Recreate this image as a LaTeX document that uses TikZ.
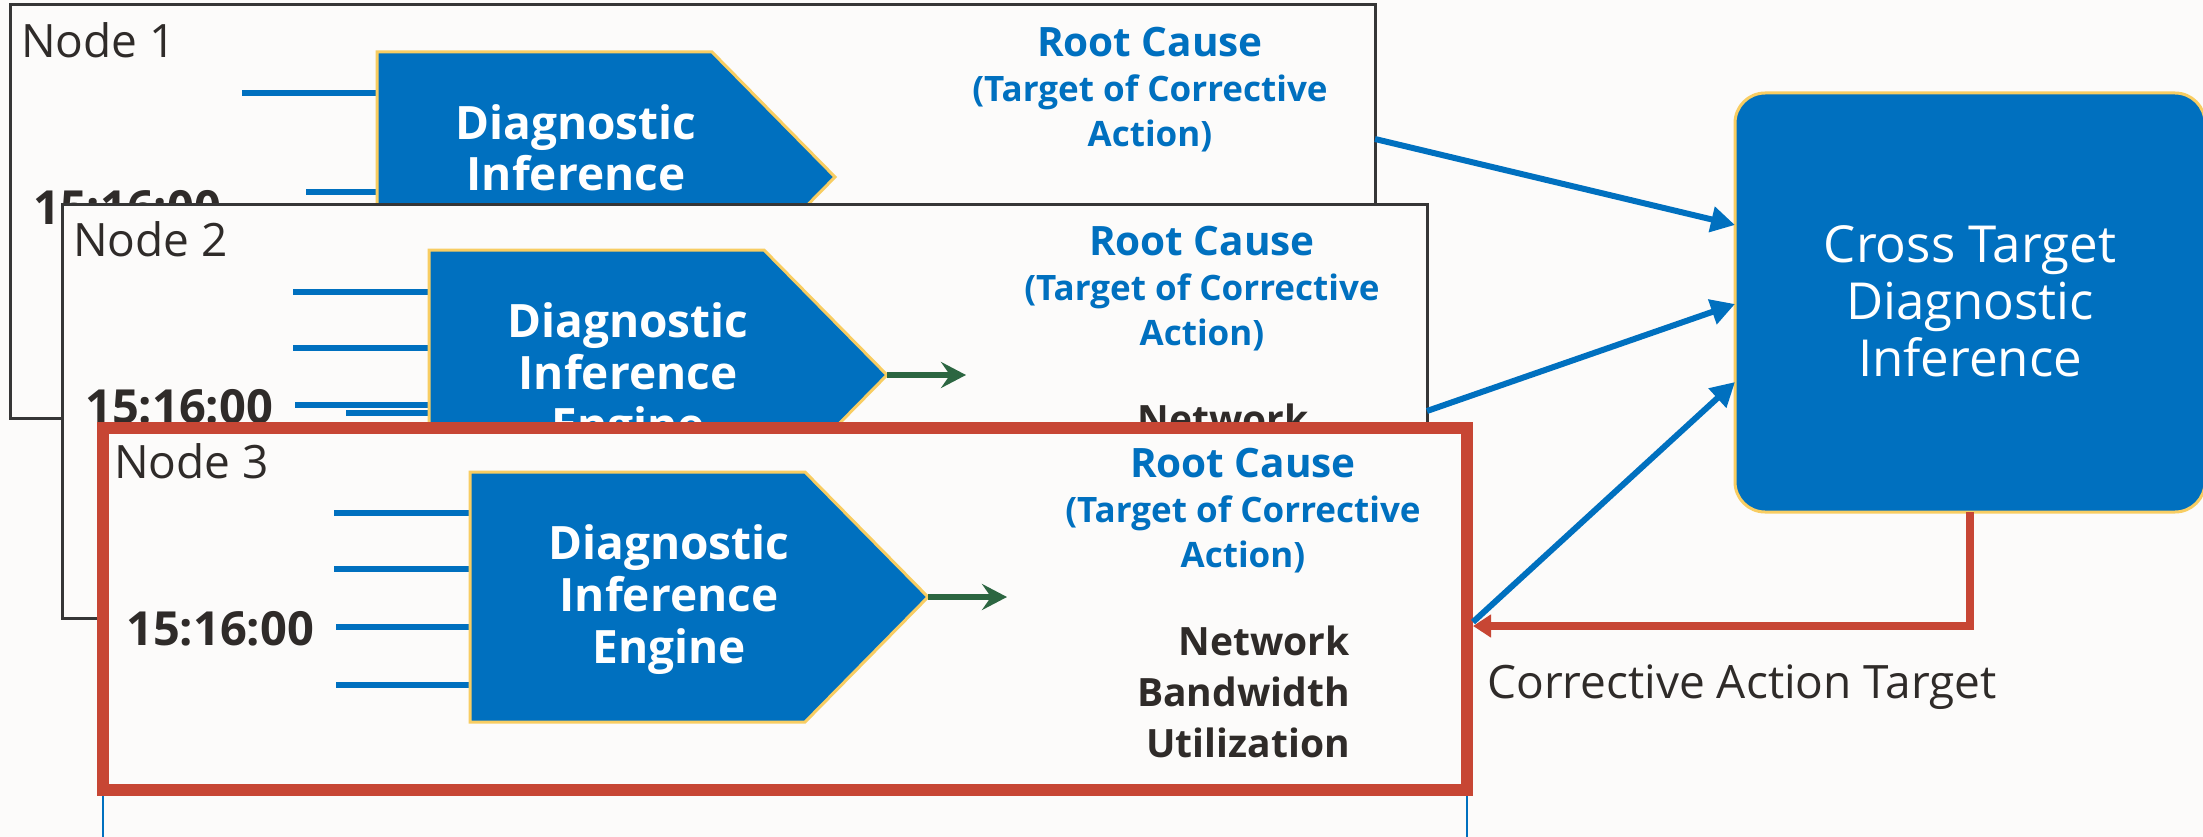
\documentclass[tikz,border=0pt]{standalone}
\usepackage{fontspec}
\setmainfont{Open Sans}
\usetikzlibrary{arrows.meta}
\definecolor{bgc}{HTML}{FCFBFA}
\definecolor{oblue}{HTML}{0070BF}
\definecolor{ored}{HTML}{C74634}
\definecolor{oyel}{HTML}{F8CD62}
\definecolor{ogreen}{HTML}{2C6641}
\definecolor{otext}{HTML}{2F2B29}
\definecolor{oframe}{HTML}{363636}
\tikzset{
  inline/.style={oblue, line width=6pt},
  chev/.style={fill=oblue, draw=oyel, line width=3pt, line join=miter},
  engtext/.style={white, font=\fontsize{46}{52}\selectfont\bfseries, align=center, anchor=base, inner sep=0pt},
  timetext/.style={otext, font=\fontsize{47}{52}\selectfont\bfseries, anchor=base west, inner sep=0pt},
  rctitle/.style={oblue, font=\fontsize{40.5}{45}\selectfont\bfseries, anchor=base, inner sep=0pt},
  rcsub/.style={oblue, font=\fontsize{35}{45}\selectfont\bfseries, align=center, anchor=base, inner sep=0pt},
  nettext/.style={otext, font=\fontsize{39}{51}\selectfont\bfseries, align=right, anchor=base east, inner sep=0pt},
  labeltext/.style={otext, font=\fontsize{46}{50}\selectfont, anchor=base west, inner sep=0pt},
  graybox/.style={draw=oframe, fill=bgc, line width=3pt, anchor=north west, inner sep=0pt, outer sep=0pt},
  redbox/.style={draw=ored, fill=bgc, line width=11.5pt, anchor=north west, inner sep=0pt, outer sep=0pt},
  ctbox/.style={draw=oyel, fill=oblue, line width=3pt, rounded corners=30pt, anchor=north west, inner sep=0pt, outer sep=0pt},
  cttext/.style={white, font=\fontsize{51}{57}\selectfont, align=center, anchor=base, inner sep=0pt},
  garrow/.style={ogreen, line width=5.5pt, -{Stealth[length=25pt, width=26pt, inset=9pt]}},
  barrow/.style={oblue, line width=6pt, -{Triangle[length=24pt, width=25pt]}},
  rarrow/.style={ored, line width=8pt, -{Triangle[length=18pt, width=22pt]}},
  thinblue/.style={oblue, line width=2pt}
}
% multi-line nodes: the base anchor is the baseline of the last line
\newcommand\diagcontent[2]{%
  \begin{scope}[shift={#2}]
    \path[chev] (377,52) -- (712,52) -- (835,177) -- (712,302) -- (377,302) -- cycle;
    \coordinate (tip#1) at (835,177);
    \coordinate (gend#1) at (914,177);
    \node[engtext] (eng#1) at (576,243) {Diagnostic\\Inference\\Engine};
    \node[timetext] (time#1) at (33,225) {15:16:00};
    \node[rctitle] (rc#1) at (1150,57) {Root Cause};
    \node[rcsub] (rcs#1) at (1150,147) {(Target of Corrective\\Action)};
    \node[nettext] (net#1) at (1257,337) {Network\\Bandwidth\\Utilization};
  \end{scope}}
\begin{document}
\begin{tikzpicture}[x=1pt, y=-1pt]
  \useasboundingbox (0,0) rectangle (2203,837);
  \fill[bgc] (0,0) rectangle (2203,837);

  % ---------- Node 1 ----------
  \node[graybox, minimum width=1365pt, minimum height=413pt] (n1) at (10,5) {};
  \node[labeltext] (lab1) at (21,58) {Node 1};
  \draw[inline] (242,93) -- (377,93);
  \draw[inline] (306,192) -- (377,192);
  \diagcontent{1}{(0,0)}

  % ---------- Node 2 ----------
  \node[graybox, minimum width=1365pt, minimum height=413pt] (n2) at (62,205) {};
  \node[labeltext] (lab2) at (73,256) {Node 2};
  \draw[inline] (293,292) -- (429,292);
  \draw[inline] (293,348) -- (429,348);
  \draw[inline] (295,405) -- (429,405);
  \draw[inline] (346,413) -- (429,413);
  \diagcontent{2}{(52,198)}
  \draw[garrow] (tip2) -- (gend2);

  % ---------- Node 3 ----------
  \draw[thinblue] (103,790) -- (103,837);
  \draw[thinblue] (1467,790) -- (1467,837);
  \node[redbox, minimum width=1364pt, minimum height=362pt] (n3) at (103,428) {};
  \node[labeltext] (lab3) at (114,478) {Node 3};
  \draw[inline] (334,513) -- (470,513);
  \draw[inline] (334,569) -- (470,569);
  \draw[inline] (336,627) -- (470,627);
  \draw[inline] (336,685) -- (470,685);
  \diagcontent{3}{(93,420)}
  \draw[garrow] (tip3) -- (gend3);

  % ---------- Cross target ----------
  \node[ctbox, minimum width=470pt, minimum height=419pt] (ct) at (1735,93) {};
  \node[cttext] (ctt) at (1970,376) {Cross Target\\Diagnostic\\Inference};

  \coordinate (s1) at (1375,139);
  \coordinate (e1) at (1735,225);
  \coordinate (s2) at (1427,411);
  \coordinate (e2) at (1735,304);
  \coordinate (s3) at (1473,622);
  \coordinate (e3) at (1735,382);
  \draw[barrow] (s1) -- (e1);
  \draw[barrow] (s2) -- (e2);
  \draw[barrow] (s3) -- (e3);

  \coordinate (rend) at (1473,626);
  \draw[rarrow] (ct.south) -- (ct.south |- rend) -- (rend);
  \node[labeltext] (cat) at (1487,698) {Corrective Action Target};
\end{tikzpicture}
\end{document}
